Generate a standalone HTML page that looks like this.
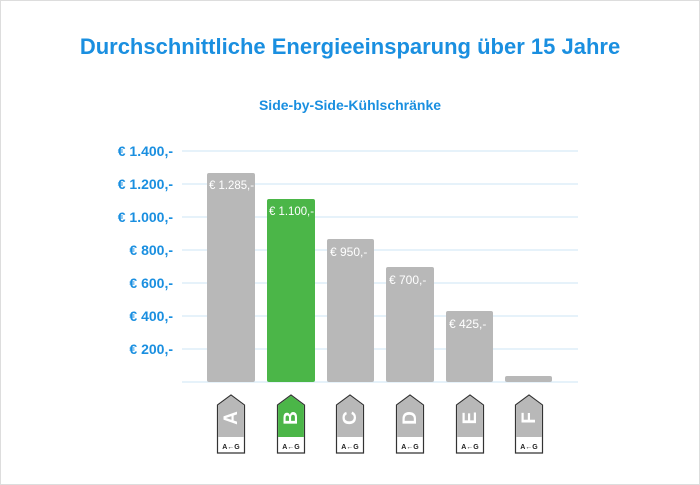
<!DOCTYPE html>
<html><head><meta charset="utf-8"><style>
body{margin:0;background:#fff}
svg{display:block}
</style></head><body>
<svg width="700" height="485" viewBox="0 0 700 485" xmlns="http://www.w3.org/2000/svg" font-family="Liberation Sans, sans-serif">
<rect x="0.5" y="0.5" width="699" height="484" fill="#fff" stroke="#ddd"/>
<text x="350" y="54" text-anchor="middle" font-size="22" font-weight="bold" fill="#1a8fe0">Durchschnittliche Energieeinsparung über 15 Jahre</text>
<text x="350" y="110" text-anchor="middle" font-size="14" font-weight="bold" fill="#1a8fe0">Side-by-Side-Kühlschränke</text>
<g stroke="#d6ebf8" stroke-width="1.2">
<line x1="182" y1="151" x2="578" y2="151"/><line x1="182" y1="184" x2="578" y2="184"/>
<line x1="182" y1="217" x2="578" y2="217"/><line x1="182" y1="250" x2="578" y2="250"/>
<line x1="182" y1="283" x2="578" y2="283"/><line x1="182" y1="316" x2="578" y2="316"/>
<line x1="182" y1="349" x2="578" y2="349"/><line x1="182" y1="382" x2="578" y2="382"/>
</g>
<g font-size="14" font-weight="bold" fill="#1a8fe0" text-anchor="end">
<text x="173" y="156">€ 1.400,-</text><text x="173" y="189">€ 1.200,-</text>
<text x="173" y="222">€ 1.000,-</text><text x="173" y="255">€ 800,-</text>
<text x="173" y="288">€ 600,-</text><text x="173" y="321">€ 400,-</text>
<text x="173" y="354">€ 200,-</text>
</g>
<g>
<rect x="207" y="173" width="48" height="209" rx="2" fill="#b8b8b8"/>
<rect x="267" y="199" width="48" height="183" rx="2" fill="#4bb648"/>
<rect x="327" y="239" width="47" height="143" rx="2" fill="#b8b8b8"/>
<rect x="386" y="267" width="48" height="115" rx="2" fill="#b8b8b8"/>
<rect x="446" y="311" width="47" height="71" rx="2" fill="#b8b8b8"/>
<rect x="505" y="376" width="47" height="6" rx="2" fill="#b8b8b8"/>
</g>
<g font-size="12" fill="#fff">
<text x="209" y="189" textLength="45" lengthAdjust="spacingAndGlyphs">€ 1.285,-</text><text x="269" y="215" textLength="45" lengthAdjust="spacingAndGlyphs">€ 1.100,-</text>
<text x="330" y="256">€ 950,-</text><text x="389" y="284">€ 700,-</text>
<text x="449" y="328">€ 425,-</text>
</g>
<defs>
<g id="tag">
<path d="M-13.5,8 L0,-2 L13.5,8 L13.5,56 L-13.5,56 Z" fill="#fff" stroke="#333" stroke-width="1.2"/>
<text x="0" y="52" text-anchor="middle" font-size="7" font-weight="bold" fill="#222">A←G</text>
</g>
</defs>
<g id="tags">
<g transform="translate(231,397)"><use href="#tag"/><path d="M-12.9,8.3 L0,-1.3 L12.9,8.3 L12.9,40 L-12.9,40 Z" fill="#b8b8b8"/><text transform="translate(6,21) rotate(-90)" text-anchor="middle" font-size="19" font-weight="bold" fill="#fff">A</text></g>
<g transform="translate(291,397)"><use href="#tag"/><path d="M-12.9,8.3 L0,-1.3 L12.9,8.3 L12.9,40 L-12.9,40 Z" fill="#4bb648"/><text transform="translate(6,21) rotate(-90)" text-anchor="middle" font-size="19" font-weight="bold" fill="#fff">B</text></g>
<g transform="translate(350,397)"><use href="#tag"/><path d="M-12.9,8.3 L0,-1.3 L12.9,8.3 L12.9,40 L-12.9,40 Z" fill="#b8b8b8"/><text transform="translate(6,21) rotate(-90)" text-anchor="middle" font-size="19" font-weight="bold" fill="#fff">C</text></g>
<g transform="translate(410,397)"><use href="#tag"/><path d="M-12.9,8.3 L0,-1.3 L12.9,8.3 L12.9,40 L-12.9,40 Z" fill="#b8b8b8"/><text transform="translate(6,21) rotate(-90)" text-anchor="middle" font-size="19" font-weight="bold" fill="#fff">D</text></g>
<g transform="translate(470,397)"><use href="#tag"/><path d="M-12.9,8.3 L0,-1.3 L12.9,8.3 L12.9,40 L-12.9,40 Z" fill="#b8b8b8"/><text transform="translate(6,21) rotate(-90)" text-anchor="middle" font-size="19" font-weight="bold" fill="#fff">E</text></g>
<g transform="translate(529,397)"><use href="#tag"/><path d="M-12.9,8.3 L0,-1.3 L12.9,8.3 L12.9,40 L-12.9,40 Z" fill="#b8b8b8"/><text transform="translate(6,21) rotate(-90)" text-anchor="middle" font-size="19" font-weight="bold" fill="#fff">F</text></g>
</g>
</svg>
</body></html>
